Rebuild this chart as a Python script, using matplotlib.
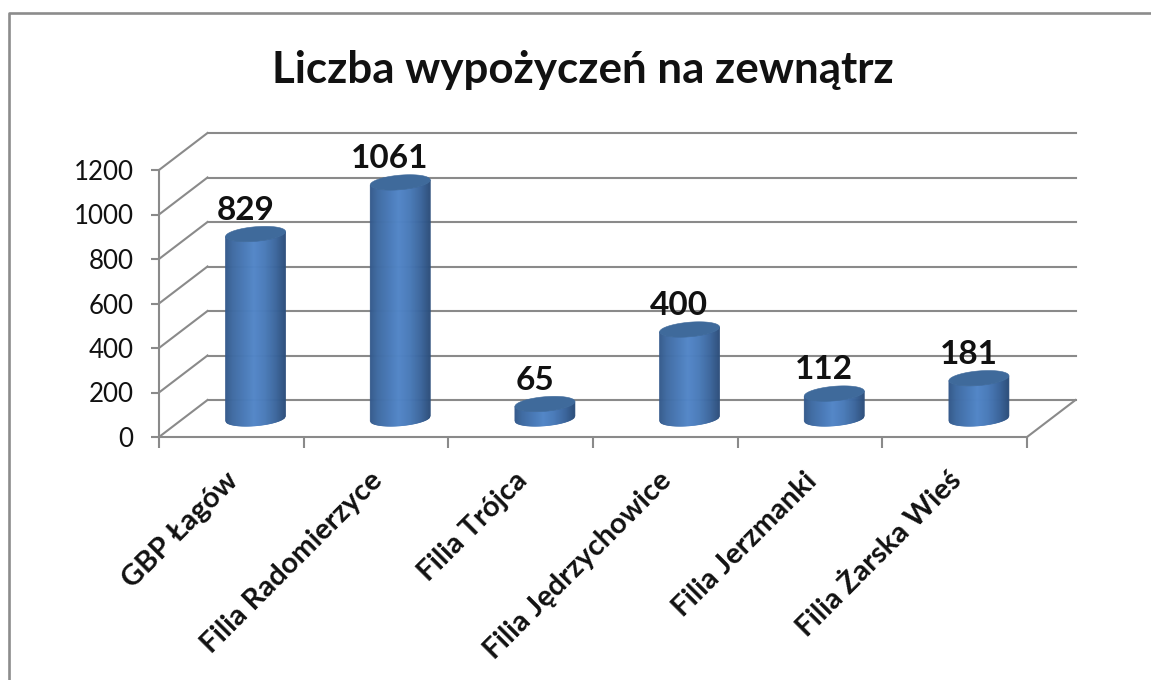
import numpy as np
import matplotlib
matplotlib.use("Agg")
import matplotlib.pyplot as plt
from matplotlib.collections import PolyCollection
from matplotlib.colors import LinearSegmentedColormap
from matplotlib.lines import Line2D
from matplotlib.patches import Polygon
from matplotlib.transforms import Affine2D, IdentityTransform

title = "Liczba wypożyczeń na zewnątrz"
categories = ["GBP Łagów", "Filia Radomierzyce", "Filia Trójca",
              "Filia Jędrzychowice", "Filia Jerzmanki", "Filia Żarska Wieś"]
values = [829, 1061, 65, 400, 112, 181]
y_ticks = [0, 200, 400, 600, 800, 1000, 1200]

W, H = 1151, 680
GRID = "#8a8a8a"
plt.rcParams["font.family"] = ["Lato", "DejaVu Sans"]

fig = plt.figure(figsize=(W / 100, H / 100), dpi=100, facecolor="white")
ax = fig.add_axes([159 / W, 1 - 437 / H, (1027 - 159) / W, (437 - 170) / H])
ax.set_xlim(0, len(categories))
ax.set_ylim(y_ticks[0], y_ticks[-1])
ax.patch.set_visible(False)

for s in ("top", "right"):
    ax.spines[s].set_visible(False)
for s in ("left", "bottom"):
    ax.spines[s].set_color(GRID)
    ax.spines[s].set_linewidth(1.5)

ax.set_yticks(y_ticks)
ax.tick_params(axis="y", length=6, width=1.5, color=GRID, labelsize=18.6, pad=12.4, labelcolor="#111111")
ax.set_xticks(np.arange(len(categories) + 1))
ax.tick_params(axis="x", which="major", length=8, width=1.5, color=GRID, labelbottom=False)
ax.set_xticks(np.arange(len(categories)) + 0.5, categories, minor=True,
              rotation=45, ha="right", rotation_mode="anchor",
              fontweight="bold", fontsize=21)
ax.tick_params(axis="x", which="minor", length=0, pad=22, labelcolor="#111111")
for label in ax.get_xticklabels(minor=True):
    label.set_transform(label.get_transform() + Affine2D().translate(-7, 0))

# walls and floor of the pseudo-3D box
DX, DY = 48.5, 37.0
back = ax.transData + Affine2D().translate(DX, DY)
for v in y_ticks:
    ax.plot([0, len(categories)], [v, v], color=GRID, lw=1.5, transform=back, clip_on=False, zorder=1)
    p = ax.transData.transform((0, v))
    ax.add_line(Line2D([p[0], p[0] + DX], [p[1], p[1] + DY], color=GRID, lw=1.5,
                       transform=IdentityTransform(), clip_on=False, zorder=1))
p = ax.transData.transform((len(categories), 0))
ax.add_line(Line2D([p[0], p[0] + DX], [p[1], p[1] + DY], color=GRID, lw=1.5,
                   transform=IdentityTransform(), clip_on=False, zorder=1))

# cylinders
cmap = LinearSegmentedColormap.from_list(
    "cyl", [(0, "#34598A"), (0.12, "#3F6AA1"), (0.3, "#4878B5"), (0.48, "#5286C8"),
            (0.66, "#4A7BB9"), (0.85, "#3B659C"), (1, "#2D4F7B")])
A, B, SLOPE = 30.0, 7.3, 0.082
xs = np.linspace(-A, A, 61)


def lower(x):
    return SLOPE * x - B * np.sqrt(np.clip(1 - (x / A) ** 2, 0, 1))


def upper(x):
    return SLOPE * x + B * np.sqrt(np.clip(1 - (x / A) ** 2, 0, 1))


xc = np.sin(np.linspace(-np.pi / 2, np.pi / 2, 120)) * A
for i, v in enumerate(values):
    base = ax.transData.transform((i + 0.5, 0)) + np.array([DX / 2, DY / 2])
    top = ax.transData.transform((i + 0.5, v)) + np.array([DX / 2, DY / 2])
    cx = base[0]
    strips, cols = [], []
    for x0, x1 in zip(xs[:-1], xs[1:]):
        strips.append([(cx + x0, base[1] + lower(x0)), (cx + x1, base[1] + lower(x1)),
                       (cx + x1, top[1] + lower(x1)), (cx + x0, top[1] + lower(x0))])
        cols.append(cmap(((x0 + x1) / 2 + A) / (2 * A)))
    pc = PolyCollection(strips, facecolors=cols, edgecolors=cols, linewidths=0.5,
                        transform=IdentityTransform(), clip_on=False, zorder=3)
    ax.add_collection(pc, autolim=False)
    ring = np.r_[np.c_[cx + xc, top[1] + lower(xc)], np.c_[cx + xc[::-1], top[1] + upper(xc[::-1])]]
    ax.add_patch(Polygon(ring, closed=True, facecolor="#3F6A9B", edgecolor="#3F6A9B", lw=0.4,
                         transform=IdentityTransform(), clip_on=False, zorder=4))
    ax.annotate(str(v), (i + 0.5, v), xytext=(14 * 0.72, 33 * 0.72), textcoords="offset points",
                ha="center", va="baseline", fontsize=24, fontweight="bold", color="#111111",
                annotation_clip=False, zorder=5)

fig.text(583 / W, 1 - 83 / H, title, ha="center", va="baseline", fontsize=31.6,
         fontweight="bold", color="#111111")

# outer chart frame, cut by the image edge
fig.add_artist(Line2D([8.5 / W, 8.5 / W, 1], [0, 1 - 13 / H, 1 - 13 / H],
                      color="#8c8c8c", lw=1.9, transform=fig.transFigure))

fig.savefig("out.png", dpi=100)
